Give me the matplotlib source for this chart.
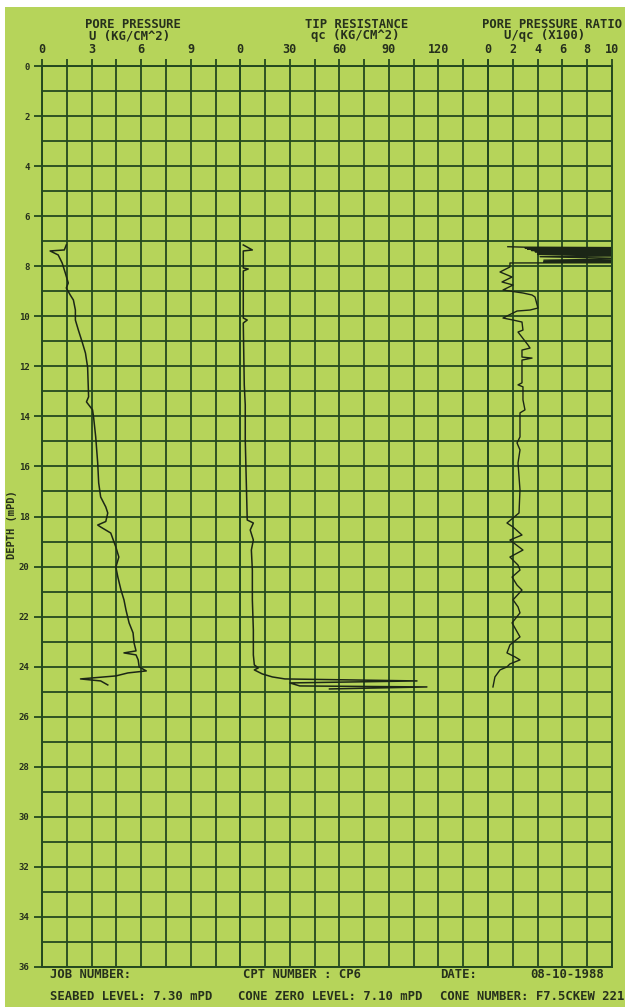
import matplotlib
matplotlib.use('Agg')
import matplotlib.pyplot as plt
from matplotlib.patches import Rectangle
import numpy as np

# pore pressure U (kg/cm2) against depth (m)
u_depth = [7.15, 7.35, 7.39, 7.55, 7.87, 8.27, 8.67, 8.87, 9.15, 9.35, 9.75, 10.15,
           10.55, 11.07, 11.47, 12.03, 13.22, 13.42, 13.74, 14.02, 14.82, 15.86, 16.66,
           17.22, 17.62, 17.86, 18.2, 18.34, 18.42, 18.66, 19.22, 19.62, 20.02, 20.42,
           20.94, 21.33, 21.73, 22.25, 22.65, 23.05, 23.37, 23.45, 23.53, 23.73, 24.01,
           24.17, 24.25, 24.37, 24.49, 24.57, 24.73]
u_value = [1.47, 1.35, 0.49, 0.98, 1.22, 1.41, 1.59, 1.47, 1.71, 1.90, 2.02, 2.02,
           2.20, 2.45, 2.63, 2.76, 2.82, 2.69, 3.06, 3.12, 3.25, 3.37, 3.43,
           3.55, 3.86, 3.98, 3.86, 3.37, 3.55, 4.16, 4.47, 4.65, 4.47, 4.59,
           4.78, 4.96, 5.08, 5.27, 5.51, 5.57, 5.69, 4.96, 5.69, 5.82, 5.88,
           6.31, 5.20, 4.47, 2.33, 3.55, 3.98]

# tip resistance qc (kg/cm2)
qc_depth = [7.15, 7.35, 7.39, 8.07, 8.11, 8.19, 9.35, 10.07, 10.15, 10.27, 12.74, 13.54,
            14.94, 16.54, 18.14, 18.26, 18.54, 18.94, 19.34, 20.14, 21.33, 22.53, 23.53,
            23.93, 24.05, 24.13, 24.29, 24.41, 24.49, 24.57, 24.65, 24.77, 24.81, 24.89]
qc_value = [1.8, 7.3, 1.8, 1.8, 4.8, 1.8, 1.8, 1.8, 4.2, 1.8, 2.4, 3.0,
            3.0, 3.6, 4.2, 7.9, 6.0, 7.9, 6.7, 7.3, 7.3, 7.9, 7.9,
            8.5, 10.9, 8.5, 13.3, 19.4, 27.0, 107.0, 30.0, 36.0, 113.0, 54.0]

# pore pressure ratio U/qc
r_depth = [7.22, 7.24, 7.26, 7.28, 7.30, 7.32, 7.35, 7.37, 7.40, 7.42, 7.45, 7.47,
           7.50, 7.53, 7.58, 7.62, 7.70, 7.76, 7.79, 7.82, 7.84, 7.86, 7.87,
           8.03, 8.23, 8.43, 8.63, 8.75, 8.95, 9.07, 9.15, 9.23, 9.67, 9.75, 9.79,
           10.07, 10.15, 10.23, 10.55, 10.63, 11.15, 11.27, 11.35, 11.63, 11.67, 11.75,
           12.66, 12.74, 12.82, 13.34, 13.74, 13.86, 14.82, 15.06, 15.34, 15.86, 16.94,
           17.86, 18.26, 18.42, 18.74, 18.94, 19.34, 19.62, 19.94, 20.14, 20.42, 20.74,
           20.94, 21.33, 21.61, 21.85, 22.25, 22.53, 22.81, 23.13, 23.45, 23.61, 23.73,
           23.89, 24.01, 24.13, 24.41, 24.81]
r_value = [1.6, 3.0, 12.0, 3.0, 12.0, 3.2, 12.0, 3.5, 12.0, 3.8, 12.0, 4.0,
           12.0, 4.0, 12.0, 4.2, 12.0, 4.5, 12.0, 4.5, 12.0, 12.0, 1.77,
           1.77, 0.97, 1.94, 1.13, 2.02, 1.21, 2.82, 3.55, 3.79, 4.03, 3.39, 2.34,
           1.21, 2.02, 2.74, 2.82, 2.42, 3.23, 3.39, 2.74, 2.74, 3.55, 2.74,
           2.74, 2.42, 2.82, 2.82, 2.98, 2.58, 2.58, 2.34, 2.58, 2.42, 2.58,
           2.5, 1.53, 2.02, 2.74, 1.77, 2.82, 1.77, 2.42, 2.58, 1.94, 2.34,
           2.74, 2.02, 2.42, 2.58, 1.94, 2.26, 2.58, 1.77, 1.53, 2.18, 2.58,
           1.77, 1.53, 0.97, 0.56, 0.40]

u_ticks = ['0', '', '3', '', '6', '', '9', '', '']
qc_ticks = ['0', '', '30', '', '60', '', '90', '', '120', '', '']
r_ticks = ['0', '2', '4', '6', '8', '10']
depth_ticks = [str(d) for d in range(0, 37, 2)]

paper = '#b6d45a'
ink = '#24481f'
pen = '#1b2616'
mono = 'DejaVu Sans Mono'

W, H = 629, 1007
fig = plt.figure(figsize=(W / 100, H / 100), dpi=100, facecolor='white')
fig.patches.append(Rectangle((5 / W, 0), 620 / W, 1 - 7 / H, transform=fig.transFigure,
                             facecolor=paper, edgecolor='none', zorder=-10))


def px(x0, x1):
    return [x0 / W, 1 - 967 / H, (x1 - x0) / W, 901 / H]


ax1 = fig.add_axes(px(42, 240.3))
ax2 = fig.add_axes(px(240.3, 488), sharey=ax1)
ax3 = fig.add_axes(px(488, 612), sharey=ax1)

ax1.plot(u_value, u_depth, color=pen, lw=1.1)
ax2.plot(qc_value, qc_depth, color=pen, lw=1.1)
ax3.plot(r_value, r_depth, color=pen, lw=1.0)

ax1.set_xlim(0, 12)
ax1.set_xticks(np.arange(0, 12.1, 1.5), u_ticks)
ax2.set_xlim(0, 150)
ax2.set_xticks(np.arange(0, 151, 15), qc_ticks)
ax3.set_xlim(0, 10)
ax3.set_xticks(np.arange(0, 11, 2), r_ticks)

ax1.set_ylim(36, 0)
ax1.set_yticks(range(0, 37, 2), depth_ticks)
ax1.set_yticks(range(1, 37, 2), minor=True)

for ax in (ax1, ax2, ax3):
    ax.set_facecolor(paper)
    ax.xaxis.tick_top()
    ax.tick_params(axis='x', direction='out', length=5, width=1.3, color=ink,
                   pad=2, labelsize=8.5, labelcolor='#26301c')
    ax.tick_params(axis='y', which='both', direction='out', width=1.3, color=ink,
                   labelsize=6.5, labelcolor='#26301c')
    ax.tick_params(axis='y', which='minor', length=0)
    ax.grid(True, which='both', color=ink, lw=1.3)
    for s in ax.spines.values():
        s.set_color(ink)
        s.set_linewidth(1.4)
    for lab in ax.get_xticklabels():
        lab.set_fontfamily(mono)
        lab.set_fontweight('bold')

ax1.tick_params(axis='y', which='major', length=6, pad=3)
for lab in ax1.get_yticklabels():
    lab.set_fontfamily(mono)
    lab.set_fontweight('bold')
for ax in (ax2, ax3):
    ax.tick_params(axis='y', which='both', length=0, labelleft=False)


def ftext(x, y, s, size=8.8, ha='center', **kw):
    fig.text(x / W, 1 - y / H, s, ha=ha, va='center', fontsize=size, family=mono,
             fontweight='bold', color='#26301c', **kw)


ftext(133, 24, 'PORE PRESSURE')
ftext(130, 36, 'U (KG/CM^2)')
ftext(357, 24, 'TIP RESISTANCE')
ftext(355, 36, 'qc (KG/CM^2)')
ftext(552, 24, 'PORE PRESSURE RATIO')
ftext(545, 36, 'U/qc (X100)')
ftext(12, 525, 'DEPTH (mPD)', size=7.5, rotation=90)

ftext(50, 975, 'JOB NUMBER:', ha='left', size=8.8)
ftext(243, 975, 'CPT NUMBER : CP6', ha='left', size=8.8)
ftext(440, 975, 'DATE:', ha='left', size=8.8)
ftext(530, 975, '08-10-1988', ha='left', size=8.8)
ftext(50, 997, 'SEABED LEVEL: 7.30 mPD', ha='left', size=8.8)
ftext(238, 997, 'CONE ZERO LEVEL: 7.10 mPD', ha='left', size=8.8)
ftext(440, 997, 'CONE NUMBER: F7.5CKEW 221', ha='left', size=8.8)

fig.savefig('out.png', dpi=100, facecolor=fig.get_facecolor())
